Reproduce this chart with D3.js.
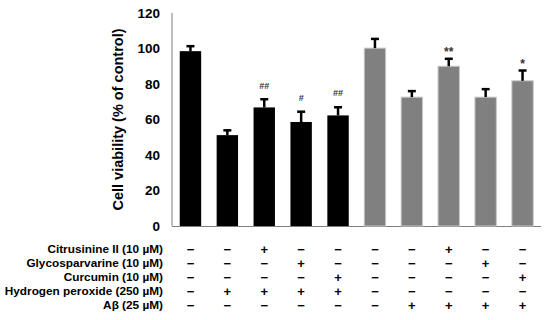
<!DOCTYPE html>
<html>
<head>
<meta charset="utf-8">
<script src="https://cdn.jsdelivr.net/npm/d3@7"></script>
<style>
  body { margin: 0; background: #fff; }
  text { font-family: "Liberation Sans", Arial, sans-serif; font-weight: bold; }
</style>
</head>
<body>
<div id="chart"></div>
<script>
const width = 550;
const height = 320;

// DATA
const groups = ["g1", "g2", "g3", "g4", "g5", "g6", "g7", "g8", "g9", "g10"];
const values = [98.5, 51.2, 66.8, 58.6, 62.3, 100.2, 72.6, 90.0, 72.6, 81.8];
const errors = [2.8, 2.7, 4.6, 5.8, 4.6, 5.2, 3.4, 4.2, 4.5, 5.8];
const marks = ["", "", "##", "#", "##", "", "", "**", "", "*"];
const barColors = ["#000", "#000", "#000", "#000", "#000", "#808080", "#808080", "#808080", "#808080", "#808080"];
const yTicks = [0, 20, 40, 60, 80, 100, 120];

const rowLabels = [
  "Citrusinine II (10 µM)",
  "Glycosparvarine (10 µM)",
  "Curcumin (10 µM)",
  "Hydrogen peroxide (250 µM)",
  "Aβ (25 µM)"
];
const rowCitrusinine = [0, 0, 1, 0, 0, 0, 0, 1, 0, 0];
const rowGlyco       = [0, 0, 0, 1, 0, 0, 0, 0, 1, 0];
const rowCurcumin    = [0, 0, 0, 0, 1, 0, 0, 0, 0, 1];
const rowH2O2        = [0, 1, 1, 1, 1, 0, 0, 0, 0, 0];
const rowAbeta       = [0, 0, 0, 0, 0, 0, 1, 1, 1, 1];
const rows = [rowCitrusinine, rowGlyco, rowCurcumin, rowH2O2, rowAbeta];

const svg = d3
  .select("#chart")
  .append("svg")
  .attr("width", width)
  .attr("height", height);

const x = d3.scaleBand().domain(groups).range([172, 541]).paddingInner(0.42).paddingOuter(0.21);
const y = d3.scaleLinear().domain([0, 120]).range([226, 13]);

// axes
svg.append("line")
  .attr("x1", 172).attr("x2", 172)
  .attr("y1", y(120)).attr("y2", y(0))
  .attr("stroke", "#7f7f7f").attr("stroke-width", 1);
svg.append("line")
  .attr("x1", 172).attr("x2", 541)
  .attr("y1", y(0) + 0.5).attr("y2", y(0) + 0.5)
  .attr("stroke", "#7f7f7f").attr("stroke-width", 1);

svg.append("g")
  .selectAll("text")
  .data(yTicks)
  .enter()
  .append("text")
  .attr("x", 160)
  .attr("y", (d) => y(d))
  .attr("dy", "0.36em")
  .attr("text-anchor", "end")
  .attr("font-size", 13.5)
  .text((d) => d);

svg.append("text")
  .attr("transform", `translate(123, ${(y(0) + y(120)) / 2}) rotate(-90)`)
  .attr("text-anchor", "middle")
  .attr("font-size", 14.5)
  .text("Cell viability (% of control)");

// bars
svg.append("g")
  .selectAll("rect")
  .data(groups)
  .enter()
  .append("rect")
  .attr("x", (d) => x(d))
  .attr("y", (d, i) => y(values[i]))
  .attr("width", x.bandwidth())
  .attr("height", (d, i) => y(0) - y(values[i]))
  .attr("fill", (d, i) => barColors[i])
  .attr("stroke", (d, i) => (i >= 5 ? "#c8c8c8" : "none"))
  .attr("stroke-width", 1);

// error bars (upper only)
const err = svg.append("g").attr("stroke", "#000").attr("stroke-width", 2.5);
groups.forEach((g, i) => {
  const cx = x(g) + x.bandwidth() / 2;
  err.append("line")
    .attr("x1", cx).attr("x2", cx)
    .attr("y1", y(values[i])).attr("y2", y(values[i] + errors[i]));
  err.append("line")
    .attr("x1", cx - 4).attr("x2", cx + 4)
    .attr("y1", y(values[i] + errors[i])).attr("y2", y(values[i] + errors[i]));
});

// significance marks
svg.append("g")
  .selectAll("text")
  .data(groups)
  .enter()
  .append("text")
  .attr("x", (d) => x(d) + x.bandwidth() / 2)
  .attr("y", (d, i) => y(values[i] + errors[i]) - (marks[i].startsWith("*") ? 7 : 14))
  .attr("dy", "0.36em")
  .attr("text-anchor", "middle")
  .attr("font-size", (d, i) => (marks[i].startsWith("*") ? 12 : 9))
  .attr("font-weight", "normal")
  .attr("fill", "#333")
  .text((d, i) => marks[i]);

// treatment table
const rowY = (r) => 249 + r * 14;
rowLabels.forEach((label, r) => {
  svg.append("text")
    .attr("x", 163)
    .attr("y", rowY(r))
    .attr("dy", "0.36em")
    .attr("text-anchor", "end")
    .attr("font-size", 11.8)
    .text(label);
  svg.append("g")
    .selectAll("text")
    .data(groups)
    .enter()
    .append("text")
    .attr("x", (d) => x(d) + x.bandwidth() / 2)
    .attr("y", rowY(r))
    .attr("dy", "0.36em")
    .attr("text-anchor", "middle")
    .attr("font-size", 13)
    .text((d, i) => (rows[r][i] ? "+" : "−"));
});
</script>
</body>
</html>
